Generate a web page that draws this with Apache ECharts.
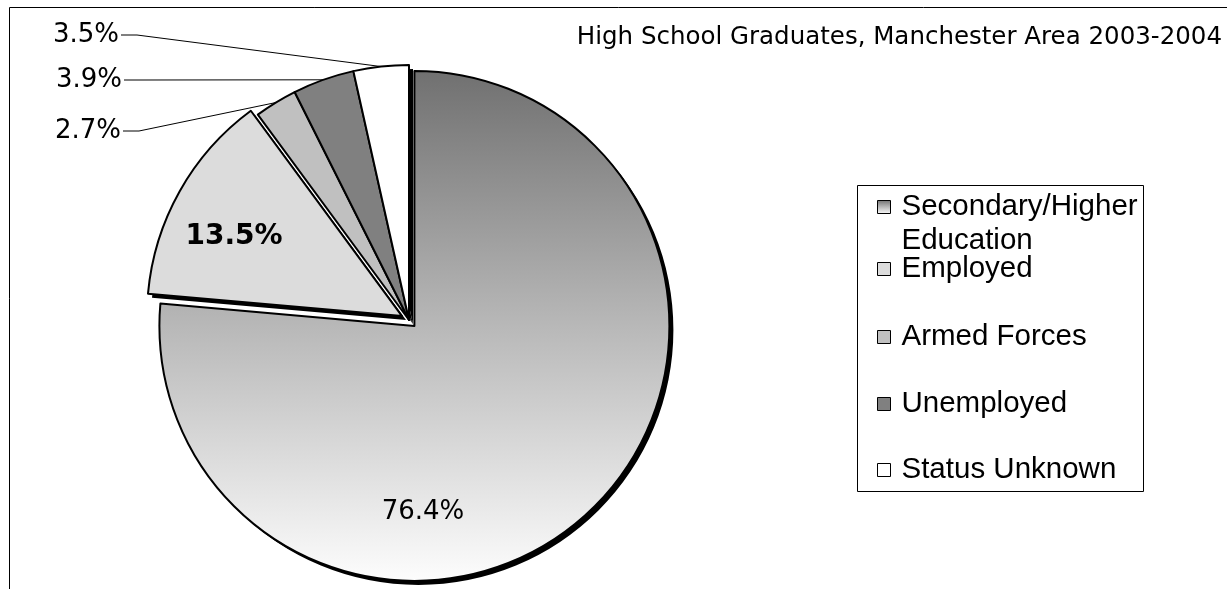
<!DOCTYPE html>
<html>
<head>
<meta charset="utf-8">
<script src="https://cdn.jsdelivr.net/npm/echarts@6/dist/echarts.min.js"></script>
<style>
  html, body { margin: 0; padding: 0; background: #fff; }
  #chart { width: 1227px; height: 589px; }
</style>
</head>
<body>
<div id="chart"></div>
<script>
const categories = ['Secondary/Higher Education', 'Employed', 'Armed Forces', 'Unemployed', 'Status Unknown'];
const percents = [76.4, 13.5, 2.7, 3.9, 3.5];
const chartTitle = 'High School Graduates, Manchester Area 2003-2004';

const chart = echarts.init(document.getElementById('chart'));

const fills = [
  new echarts.graphic.LinearGradient(0, 0, 0, 1, [
    { offset: 0, color: '#707070' },
    { offset: 0.5, color: '#b8b8b8' },
    { offset: 1, color: '#fdfdfd' },
  ]),
  '#dcdcdc',
  '#c0c0c0',
  '#808080',
  '#ffffff',
];

// where each percent label sits
const labelSpots = [
  { x: 423, y: 512, align: 'center' },
  { x: 234, y: 237, align: 'center' },
  { x: 121, y: 131, align: 'right' },
  { x: 122, y: 80, align: 'right' },
  { x: 119, y: 35, align: 'right' },
];
const legendCenters = [207, 269, 337, 404, 470];

// slice centres (first two are pulled out of the pie)
const sliceCenters = [[414.4, 325.9], [402, 316.1], [409, 320], [409, 320], [409, 320]];
const RADIUS = 255;
const SHADOW = 4;

const clear = 'rgba(0,0,0,0)';

function basePie(center) {
  return {
    type: 'pie',
    center: center,
    radius: RADIUS,
    startAngle: 90,
    clockwise: true,
    avoidLabelOverlap: false,
    minShowLabelAngle: 0,
    emphasis: { disabled: true },
  };
}

// black copy of one slice, shifted down-right, drawn underneath it
function shadowPie(k) {
  const c = sliceCenters[k];
  return Object.assign(basePie([c[0] + SHADOW, c[1] + SHADOW]), {
    silent: true,
    label: { show: false },
    labelLine: { show: false },
    data: percents.map((v, i) => ({
      name: '',
      value: v,
      itemStyle: { color: i === k ? '#000' : clear, borderWidth: 0 },
    })),
  });
}

function slicePie(k) {
  return Object.assign(basePie(sliceCenters[k]), {
    itemStyle: { borderColor: '#000', borderWidth: 2 },
    label: {
      fontFamily: 'DejaVu Sans',
      fontSize: 26,
      color: '#000',
      formatter: (p) => p.value.toFixed(1) + '%',
    },
    labelLine: { lineStyle: { color: '#000', width: 1 } },
    labelLayout: function (params) {
      const s = labelSpots[params.dataIndex];
      const out = { x: s.x, y: s.y, align: s.align, verticalAlign: 'middle' };
      if (params.labelLinePoints && s.align === 'right') {
        const p0 = params.labelLinePoints[0];
        out.labelLinePoints = [[p0[0], p0[1]], [s.x + 18, s.y], [s.x + 2, s.y]];
      }
      return out;
    },
    data: percents.map((v, i) => {
      if (i !== k) {
        return {
          name: '',
          value: v,
          itemStyle: { color: clear, borderWidth: 0 },
          label: { show: false },
          labelLine: { show: false },
        };
      }
      return {
        name: categories[i],
        value: v,
        itemStyle: { color: fills[i] },
        label: i < 2
          ? { position: 'inside', fontSize: i === 1 ? 28 : 26, fontWeight: i === 1 ? 'bold' : 'normal' }
          : { position: 'outside' },
        labelLine: { show: i >= 2 },
      };
    }),
  });
}

const series = [];
categories.forEach((c, k) => {
  series.push(shadowPie(k));
  series.push(slicePie(k));
});

const option = {
  animation: false,
  title: {
    text: chartTitle,
    right: 5,
    top: 25,
    padding: 0,
    textStyle: { fontFamily: 'DejaVu Sans', fontSize: 24.5, fontWeight: 'normal', color: '#000' },
  },
  graphic: [
    {
      type: 'rect',
      shape: { x: 9.5, y: 7.5, width: 1240, height: 600 },
      style: { fill: 'none', stroke: '#000', lineWidth: 1 },
      silent: true,
    },
    {
      type: 'rect',
      shape: { x: 857.5, y: 185.5, width: 286, height: 306 },
      style: { fill: 'none', stroke: '#000', lineWidth: 1 },
      silent: true,
    },
  ],
  legend: categories.map((name, i) => ({
    data: [name],
    orient: 'vertical',
    left: 877,
    top: legendCenters[i] - (i === 0 ? 51 : 17),
    padding: 0,
    icon: 'rect',
    itemWidth: 13,
    itemHeight: 13,
    selectedMode: false,
    // blank first line keeps the box beside "Secondary/Higher"
    formatter: (n) => (n.indexOf('/Higher ') >= 0 ? '\n' + n.replace('/Higher ', '/Higher\n') : n),
    textStyle: {
      fontFamily: 'Liberation Sans',
      fontSize: 29.5,
      lineHeight: 34,
      color: '#000',
      padding: [0, 0, 0, 6],
    },
    itemStyle: { borderColor: '#000', borderWidth: 1 },
  })),
  series: series,
};

chart.setOption(option);
</script>
</body>
</html>
